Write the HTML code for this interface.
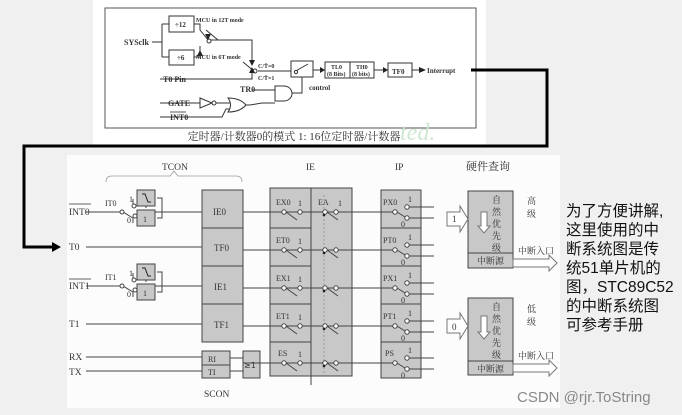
<!DOCTYPE html>
<html><head><meta charset="utf-8"><style>
html,body{margin:0;padding:0;background:#f0f0f0;width:682px;height:415px;overflow:hidden}
svg{display:block}
text{font-family:"Liberation Serif","Noto Serif CJK SC",serif;fill:#333}
.s{font-family:"Liberation Sans","Noto Sans CJK SC",sans-serif}
</style></head><body>
<svg width="682" height="415" viewBox="0 0 682 415" xmlns="http://www.w3.org/2000/svg">
<rect x="93" y="0" width="393" height="145" fill="#fff"/>
<rect x="67" y="155" width="493" height="253" fill="#fcfcfc"/>
<!-- TOP DIAGRAM -->
<g stroke="#333" stroke-width="1" fill="none">
<rect x="105" y="8" width="371" height="120" stroke="#555"/>
<path d="M152,42H162M162,24V57M162,24H169M162,57H169"/>
<rect x="169" y="16" width="25" height="16" fill="#fff"/>
<rect x="169" y="50" width="25" height="15" fill="#fff"/>
<path d="M194,24H200V30L208,40M194,57H200"/>
<path d="M200,55V46" /><path d="M210,40H252V62" />
<path d="M218,40L206,30"/>
<path d="M160,79H252V72"/>
<path d="M243,62L255,72M258,71H291"/>
<rect x="291" y="61" width="22" height="16" fill="#fff"/>
<path d="M294,72L308,64M313,70H325"/>
<rect x="325" y="62" width="25" height="16" fill="#fff"/>
<rect x="350" y="62" width="24" height="16" fill="#fff"/>
<path d="M374,70H388"/>
<rect x="388" y="63" width="24" height="14" fill="#fff"/>
<path d="M412,70H424"/>
<path d="M302,77V93H292"/>
<path d="M252,90H275M262,103H275"/>
<path d="M275,86H284A8,7.5 0 0 1 284,101H275Z" fill="#fff"/>
<path d="M245,105H250L262,103" />
<path d="M160,103H200M200,98L212,103L200,108Z" fill="#fff"/>
<circle cx="214" cy="103" r="2" fill="#fff"/>
<path d="M216,103H230M160,117H222L226,109H232"/>
<path d="M228,98Q240,98 246,105Q240,112 228,112Q233,105 228,98Z" fill="#fff"/>
<circle cx="255" cy="71" r="2" fill="#fff"/><circle cx="209" cy="41" r="2" fill="#fff"/><circle cx="296" cy="72" r="1.6" fill="#fff"/>
</g>
<g fill="#222"><path d="M249,60L255,60L252,66Z"/><path d="M249,73L255,73L252,67Z"/><path d="M197,56L203,56L200,50Z"/><path d="M205,34L211,34L208,40Z"/><path d="M320,67L325,70L320,73Z"/><path d="M383,67L388,70L383,73Z"/><path d="M419,67L426,70L419,73Z"/></g>
<g font-size="8" font-weight="bold">
<text x="124" y="45">SYSclk</text>
<text x="175" y="27" font-size="7">÷12</text><text x="177" y="60" font-size="7">÷6</text>
<text x="196" y="22" font-size="6">MCU in 12T mode</text>
<text x="196" y="59" font-size="6">MCU in 6T mode</text>
<text x="163" y="82">T0 Pin</text>
<text x="258" y="68" font-size="6">C/T̄=0</text><text x="258" y="80" font-size="6">C/T̄=1</text>
<text x="331" y="69" font-size="6">TL0</text><text x="327" y="76" font-size="6">(8 Bits)</text>
<text x="356" y="69" font-size="6">TH0</text><text x="352" y="76" font-size="6">(8 bits)</text>
<text x="392" y="74" font-size="7">TF0</text>
<text x="427" y="73" font-size="7">Interrupt</text>
<text x="309" y="90" font-size="7">control</text>
<text x="240" y="92">TR0</text>
<text x="168" y="106">GATE</text>
<text x="170" y="120">INT0</text>
</g>
<path d="M170,112H186" stroke="#333" stroke-width="0.8"/>
<text x="294" y="140" font-size="11" text-anchor="middle">定时器/计数器0的模式 1: 16位定时器/计数器</text>
<text x="400" y="140" font-size="24" fill="#cfe8d2" style="fill:#cfe8d2" font-style="italic">ted.</text>
<!-- connector -->
<path d="M471,70H547V146H24V247H55" stroke="#000" stroke-width="3" fill="none"/>
<path d="M52,242L61,247L52,252Z" fill="#000"/>
<!-- BOTTOM DIAGRAM -->
<g font-size="9.5">
<text x="162" y="170">TCON</text><text x="306" y="170">IE</text><text x="395" y="170">IP</text>
<text x="466" y="170" font-size="11">硬件查询</text>
<text x="204" y="397">SCON</text>
<text x="69" y="215">INT0</text><text x="69" y="250">T0</text><text x="69" y="289">INT1</text><text x="69" y="327">T1</text>
<text x="69" y="360">RX</text><text x="69" y="375">TX</text>
</g>
<path d="M69,204H91M69,279H91" stroke="#333" stroke-width="0.8"/>
<path d="M106,182Q106,176 112,176H170L174,171L178,176H236Q242,176 242,182" stroke="#999" fill="none" stroke-width="0.8"/>
<g stroke="#444" stroke-width="1" fill="#c8c8c8">
<rect x="202" y="190" width="41" height="38"/><rect x="202" y="228" width="41" height="38"/>
<rect x="202" y="266" width="41" height="38"/><rect x="202" y="304" width="41" height="38"/>
<rect x="202" y="351" width="28" height="14"/><rect x="202" y="365" width="28" height="13"/>
<rect x="243" y="351" width="17" height="27"/>
<rect x="270" y="188" width="82" height="188"/>
<rect x="381" y="190" width="40" height="188"/>
<rect x="468" y="191" width="45" height="77"/><rect x="468" y="298" width="45" height="77"/>
<path d="M468,253H513M468,361H513" fill="none"/>
<path d="M311,188V385M270,228H311M270,266H311M270,304H311M270,342H311M381,228H421M381,266H421M381,304H421M381,342H421" fill="none"/>
<path d="M324,195V375" stroke="#999" stroke-dasharray="2,2" fill="none"/>
</g>
<g stroke="#444" fill="none">
<path d="M86,247H202M86,324H202M86,357H202M86,371H202M230,358H243M230,371H243"/>
</g>
<defs>
<g id="sw">
<path d="M100,0H120M133,-13V-8M133,6V11M137,-13H146V-4M137,11H146V4M146,0H202" stroke="#444" fill="none"/>
<rect x="137" y="-22" width="18" height="16" fill="#c8c8c8" stroke="#444"/>
<rect x="137" y="-2" width="18" height="16" fill="#c8c8c8" stroke="#444"/>
<path d="M157,-14H162V0M157,6H162V0" stroke="#444" fill="none"/>
<path d="M142,-18H145L148,-10H151" stroke="#222" fill="none"/>
<text x="143" y="10" font-size="8">1</text>
<path d="M123,0L133,6" stroke="#444"/>
<circle cx="122" cy="0" r="2" fill="#fff" stroke="#444"/><circle cx="134" cy="-6" r="2" fill="#fff" stroke="#444"/><circle cx="135" cy="4" r="2" fill="#fff" stroke="#444"/>
<text x="129" y="-10" font-size="8">1</text><text x="127" y="11" font-size="8">0</text>
</g>
<g id="row">
<path d="M243,0H282M286,0H298M302,0H323M327,0H334M338,0H393M397,0L405,5M409,-5H434M409,6H434M286,0L297,8M327,0L338,8" stroke="#444" fill="none"/>
<circle cx="284" cy="0" r="2.2" fill="#fff" stroke="#444"/><circle cx="300" cy="0" r="2.2" fill="#fff" stroke="#444"/>
<circle cx="325" cy="0" r="2.2" fill="#fff" stroke="#444"/><circle cx="336" cy="0" r="2.2" fill="#fff" stroke="#444"/>
<circle cx="324" cy="3" r="1.3" fill="#222"/>
<circle cx="395" cy="0" r="2.2" fill="#fff" stroke="#444"/><circle cx="407" cy="-5" r="2.2" fill="#fff" stroke="#444"/><circle cx="407" cy="6" r="2.2" fill="#fff" stroke="#444"/>
<text x="298" y="-6" font-size="8">1</text><text x="408" y="-10" font-size="8">1</text><text x="401" y="15" font-size="8">0</text>
</g>
</defs>
<use href="#sw" transform="translate(0,212)"/>
<use href="#sw" transform="translate(0,286)"/>
<path d="M86,212H120M86,286H120" stroke="#444"/>
<text x="105" y="206" font-size="8">IT0</text><text x="105" y="280" font-size="8">IT1</text>
<use href="#row" transform="translate(0,212)"/><use href="#row" transform="translate(0,250)"/>
<use href="#row" transform="translate(0,288)"/><use href="#row" transform="translate(0,326)"/>
<use href="#row" transform="translate(0,363)"/>
<text x="338" y="206" font-size="8">1</text>
<g font-size="9">
<text x="213" y="215">IE0</text><text x="214" y="251">TF0</text><text x="214" y="290">IE1</text><text x="214" y="328">TF1</text>
<text x="208" y="362" font-size="8">RI</text><text x="208" y="375" font-size="8">TI</text>
<text x="244" y="368" font-size="8" style="font-family:'DejaVu Sans',sans-serif">≥1</text>
<text x="276" y="205" font-size="8">EX0</text><text x="276" y="243" font-size="8">ET0</text><text x="276" y="281" font-size="8">EX1</text><text x="276" y="319" font-size="8">ET1</text><text x="278" y="356" font-size="8">ES</text>
<text x="318" y="205" font-size="8">EA</text>
<text x="383" y="205" font-size="8">PX0</text><text x="383" y="243" font-size="8">PT0</text><text x="383" y="281" font-size="8">PX1</text><text x="383" y="319" font-size="8">PT1</text><text x="385" y="356" font-size="8">PS</text>
</g>
<!-- hardware query -->
<g stroke="#777" fill="#fff">
<path d="M447,212H460V206L468,219L460,232V226H447Z"/>
<path d="M447,319H460V313L468,326L460,339V333H447Z"/>
<path d="M481,212H487V226H490L484,233L478,226H481Z"/>
<path d="M481,316H487V332H490L484,339L478,332H481Z"/>
<path d="M513,259H549V255L557,263L549,271V267H513Z"/>
<path d="M513,364H549V360L557,368L549,376V372H513Z"/>
</g>
<g font-size="9" fill="#444">
<text x="452" y="222">1</text><text x="452" y="330">0</text>
<text x="492" y="203">自</text><text x="492" y="215">然</text><text x="492" y="227">优</text><text x="492" y="239">先</text><text x="492" y="251">级</text>
<text x="492" y="310">自</text><text x="492" y="322">然</text><text x="492" y="334">优</text><text x="492" y="346">先</text><text x="492" y="358">级</text>
<text x="477" y="264">中断源</text><text x="477" y="372">中断源</text>
<text x="527" y="204">高</text><text x="527" y="217">级</text>
<text x="527" y="312">低</text><text x="527" y="325">级</text>
<text x="518" y="254">中断入口</text><text x="518" y="359">中断入口</text>
</g>
<!-- right note -->
<g class="s" font-size="15.5">
<text x="566" y="216" class="s" style="fill:#111">为了方便讲解,</text>
<text x="566" y="235" class="s" style="fill:#111">这里使用的中</text>
<text x="566" y="254" class="s" style="fill:#111">断系统图是传</text>
<text x="566" y="273" class="s" style="fill:#111">统51单片机的</text>
<text x="566" y="292" class="s" style="fill:#111">图，STC89C52</text>
<text x="566" y="311" class="s" style="fill:#111">的中断系统图</text>
<text x="566" y="330" class="s" style="fill:#111">可参考手册</text>
</g>
<text x="517" y="402" class="s" font-size="15" style="fill:#888">CSDN @rjr.ToString</text>
</svg>
</body></html>
